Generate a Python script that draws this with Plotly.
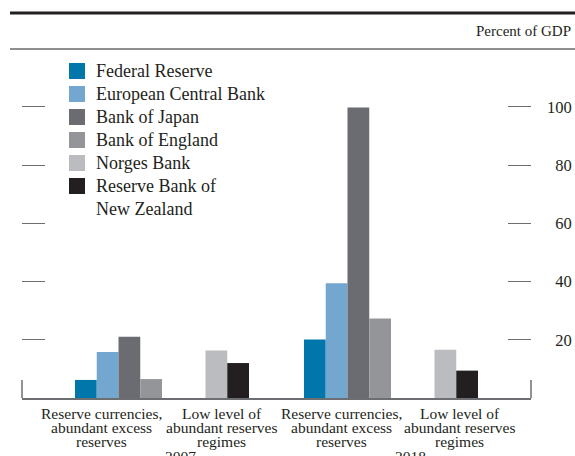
import plotly.graph_objects as go

# ---- data ----
years = ["2007", "2018"]
banks = ["Federal Reserve", "European Central Bank", "Bank of Japan",
         "Bank of England", "Norges Bank", "Reserve Bank of<br>New Zealand"]
fed = [6.2, 20.1]
ecb = [15.8, 39.4]
boj = [21.0, 99.7]
boe = [6.5, 27.3]
norges = [16.3, 16.6]
rbnz = [12.0, 9.4]
series = [fed, ecb, boj, boe, norges, rbnz]
colors = ["#0076AA", "#74A7CF", "#6A6C71", "#939598", "#BBBCC0", "#231F20"]
slots = [0, 1, 2, 3, 6, 7]          # slot in the 8-slot group (2 empty)
tick_vals = [20, 40, 60, 80, 100]
tick_text = ["\u200720", "\u200740", "\u200760", "\u200780", "100"]

group_lines = [["Reserve currencies,", "abundant excess", "reserves"],
               ["Low level of", "abundant reserves", "regimes"]]
group_label_x = [-0.263, 0.26, 0.785, 1.30]
year_label_x = [0.079, 1.087]

FONT = "Liberation Serif, Times New Roman, serif"
TXT = "#231F20"
AX = "#6D6E71"

W, H = 575, 456
ML, MR, MT, MB = 22, 44, 55, 58
PH = H - MT - MB
PW = W - ML - MR

def py(p):  # pixel y -> paper y
    return (H - MB - p) / PH

def px(p):  # pixel x -> paper x
    return (p - ML) / PW

slot_w = 0.095
start = -0.38

fig = go.Figure()
for name, vals, col, s in zip(banks, series, colors, slots):
    fig.add_trace(go.Bar(x=[0, 1], y=vals, width=slot_w, offset=start + s * slot_w,
                         marker=dict(color=col, line=dict(width=0)),
                         showlegend=False, name=name.replace("<br>", " ")))

annotations = []
shapes = []

# legend (swatch + text), 23 px rhythm
for i, (name, col) in enumerate(zip(banks, colors)):
    top = 63 + 23 * i
    shapes.append(dict(type="rect", xref="paper", yref="paper",
                       x0=px(69), x1=px(85), y0=py(top + 16), y1=py(top),
                       fillcolor=col, line=dict(width=0)))
    for li, t in enumerate(name.split("<br>")):
        annotations.append(dict(x=px(94), xref="paper", y=py(top + 8 + 23 * li),
                                yref="paper", text=t, showarrow=False,
                                xanchor="left", yanchor="middle",
                                font=dict(family=FONT, size=18, color=TXT)))

for gi, lx in enumerate(group_label_x):
    lines = group_lines[gi % 2]
    for li, t in enumerate(lines):
        annotations.append(dict(x=lx, xref="x", y=py(413.5 + 14 * li), yref="paper",
                                text=t, showarrow=False, xanchor="center", yanchor="middle",
                                font=dict(family=FONT, size=15.5, color=TXT)))
for yx, yr in zip(year_label_x, years):
    annotations.append(dict(x=yx, xref="x", y=py(456), yref="paper", text=yr,
                            showarrow=False, xanchor="center", yanchor="middle",
                            font=dict(family=FONT, size=15.5, color=TXT)))
annotations.append(dict(x=px(573), xref="paper", y=py(31), yref="paper",
                        text="Percent of GDP", showarrow=False, xanchor="right",
                        yanchor="middle", font=dict(family=FONT, size=15, color=TXT)))

shapes += [
    dict(type="line", xref="paper", yref="paper", x0=px(10), x1=px(575),
         y0=py(13), y1=py(13), line=dict(color=TXT, width=3)),
    dict(type="line", xref="paper", yref="paper", x0=px(10), x1=px(575),
         y0=py(49), y1=py(49), line=dict(color=TXT, width=1.2)),
    dict(type="line", xref="paper", yref="paper", x0=0, x1=0,
         y0=0, y1=py(380), line=dict(color=AX, width=1.5)),
    dict(type="line", xref="paper", yref="paper", x0=1, x1=1,
         y0=0, y1=py(380), line=dict(color=AX, width=1.5)),
]

fig.update_layout(
    width=W, height=H,
    margin=dict(l=ML, r=MR, t=MT, b=MB, pad=0, autoexpand=False),
    paper_bgcolor="white", plot_bgcolor="white",
    barmode="overlay",
    showlegend=False,
    font=dict(family=FONT, size=16, color=TXT),
    xaxis=dict(type="linear", range=[-0.6114, 1.6114], showticklabels=False,
               showgrid=False, zeroline=False, showline=True, linecolor=AX,
               linewidth=1.5, ticks="", automargin=False),
    yaxis=dict(range=[0, PH / 2.9125], side="right", tickvals=tick_vals,
               ticktext=tick_text, ticks="inside", ticklen=23, tickwidth=1.3,
               tickcolor=AX, mirror="ticks", showline=False, showgrid=False,
               zeroline=False, ticklabelstandoff=15, automargin=False,
               tickfont=dict(family=FONT, size=16.5, color=TXT)),
    annotations=annotations,
    shapes=shapes,
)

fig.write_html("out.html", config={"displayModeBar": False}, post_script=(
    "document.body.style.margin='0px';document.body.style.padding='0px';"
    "document.body.style.overflow='hidden';"))
